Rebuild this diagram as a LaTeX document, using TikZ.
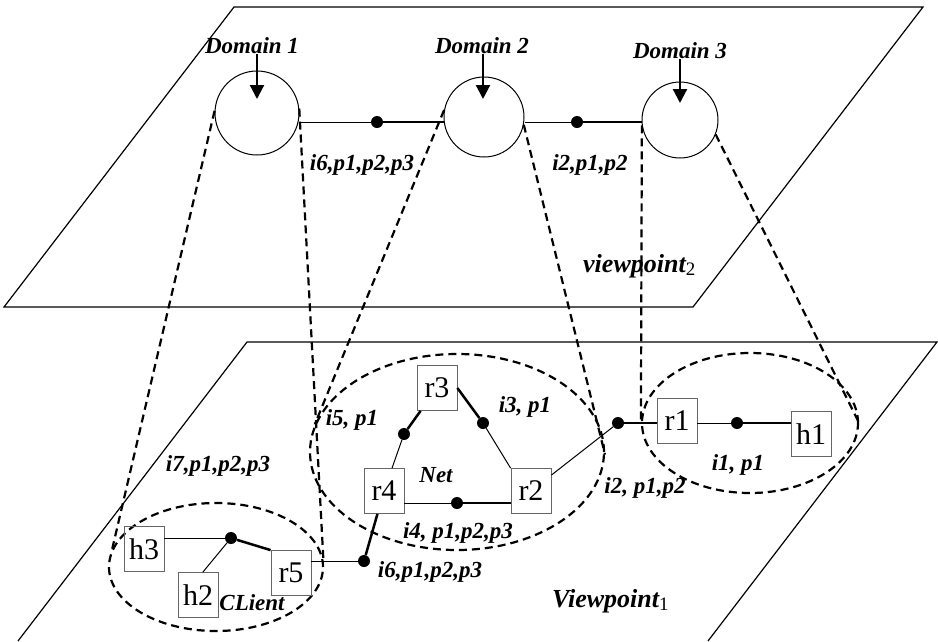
\documentclass[tikz,border=0pt]{standalone}
\usepackage{fontspec}
\setmainfont{Liberation Serif}
\usetikzlibrary{arrows.meta,shapes.geometric}
\begin{document}
\begin{tikzpicture}[x=1pt,y=-1pt,
  lbl/.style={font=\fontsize{23}{25}\selectfont\bfseries\itshape, inner sep=0pt},
  vlbl/.style={font=\fontsize{26}{28}\selectfont\bfseries\itshape, inner sep=0pt},
  box/.style={draw=black!60, line width=0.8pt, minimum width=40pt, minimum height=45pt, inner sep=0pt, font=\fontsize{30}{30}\selectfont},
  dot/.style={circle, fill=black, inner sep=0pt, minimum size=12pt},
  thinline/.style={line width=1pt},
  heavy/.style={line width=2.5pt},
  proj/.style={line width=2.2pt, dash pattern=on 8pt off 5pt},
  dom/.style={circle, draw, line width=1pt, inner sep=0pt},
  region/.style={ellipse, draw, proj, inner sep=0pt},
  plane/.style={line width=1.2pt},
  domarrow/.style={line width=2.2pt, -{Triangle[length=14pt,width=14pt]}},
]
\useasboundingbox (0,0) rectangle (938,641);

% planes
\draw[plane] (234,7) -- (923,7) -- (693,307) -- (4,307) -- cycle;
\draw[plane] (18,641) -- (247,342) -- (937,342) -- (708,641);

% top layer
\node[dom, minimum size=84pt] (D1) at (257,113) {};
\node[dom, minimum size=80pt] (D2) at (484,117) {};
\node[dom, minimum size=76pt] (D3) at (680,120) {};
\node[lbl] (L1) at (252,46) {Domain 1};
\node[lbl] (L2) at (482,46) {Domain 2};
\node[lbl] (L3) at (680,51) {Domain 3};
\coordinate (a1) at (257,99);
\coordinate (a2) at (483,99);
\coordinate (a3) at (680,103);
\draw[domarrow] (a1 |- L1.south) -- (a1);
\draw[domarrow] (a2 |- L2.south) -- (a2);
\draw[domarrow] (a3 |- L3.south) -- (a3);

\node[dot] (dt1) at (377,122) {};
\node[dot] (dt2) at (577,122) {};
\draw[thinline] (dt1 -| D1.east) -- (dt1);
\draw[heavy] (dt1) -- (dt1 -| D2.west);
\draw[thinline] (dt2 -| D2.east) -- (dt2);
\draw[heavy] (dt2) -- (dt2 -| D3.west);

\node[lbl] (t1) at (362,165) {i6,p1,p2,p3};
\node[lbl] (t2) at (590,165) {i2,p1,p2};
\node[vlbl, anchor=west] (vp2) at (583,266) {viewpoint\raisebox{-0.25ex}{\normalfont\fontsize{19}{19}\selectfont 2}};

% lower layer regions
\node[region, minimum width=214pt, minimum height=128pt] (CL) at (216,567) {};
\node[region, minimum width=294pt, minimum height=196pt] (NE) at (457,452) {};
\node[region, minimum width=216pt, minimum height=140pt] (R1E) at (750,423) {};

% projection lines
\draw[proj] (D1.177) -- (CL.170);
\draw[proj] (D1.6) -- (CL.4);
\draw[proj] (D2.170) -- (NE.169);
\draw[proj] (D2.-11) -- (NE.-1);
\draw[proj] (D3.188) -- (R1E.west);
\draw[proj] (D3.-22) -- (R1E.east);

% boxes
\node[box] (r3) at (437,388) {r3};
\node[box] (r4) at (384,491) {r4};
\node[box] (r2) at (531,491) {r2};
\node[box] (r1) at (677,421) {r1};
\node[box] (h1) at (811,434) {h1};
\node[box] (h3) at (144,549) {h3};
\node[box] (h2) at (198,595) {h2};
\node[box] (r5) at (291,573) {r5};

% dots
\node[dot] (d34) at (404,434) {};
\node[dot] (d32) at (483,423) {};
\node[dot] (d42) at (457,503) {};
\node[dot] (d21) at (618,423) {};
\node[dot] (d1h) at (737,423) {};
\node[dot] (d45) at (364,561) {};
\node[dot] (dc) at (231,538) {};

% links
\draw[heavy] (d34) -- (r3);
\draw[thinline] (d34) -- (r4);
\draw[heavy] (r3.east) -- (d32);
\draw[thinline] (d32) -- (r2.north west);
\draw[thinline] (d42 -| r4.east) -- (d42);
\draw[heavy] (d42) -- (d42 -| r2.west);
\draw[thinline] (d21) -- (r2);
\draw[heavy] (d21) -- (d21 -| r1.west);
\draw[thinline] (d1h -| r1.east) -- (d1h);
\draw[heavy] (d1h) -- (d1h -| h1.west);
\draw[heavy] (d45) -- (r4);
\draw[thinline] (d45) -- (d45 -| r5.east);
\draw[thinline] (dc -| h3.east) -- (dc);
\draw[thinline] (dc) -- (h2.78);
\draw[heavy] (dc) -- (r5.north west);

% labels
\node[lbl] (l5) at (352,420) {i5, p1};
\node[lbl] (l7) at (218,466) {i7,p1,p2,p3};
\node[lbl] (lnet) at (436,475) {Net};
\node[lbl] (l3) at (525,407) {i3, p1};
\node[lbl] (l4) at (458,533) {i4, p1,p2,p3};
\node[lbl] (l2) at (645,488) {i2, p1,p2};
\node[lbl] (l1) at (738,465) {i1, p1};
\node[lbl] (l6) at (430,572) {i6,p1,p2,p3};
\node[lbl] (lcl) at (252,603) {CLient};
\node[vlbl, anchor=west] (vp1) at (552,601) {Viewpoint\raisebox{-0.25ex}{\normalfont\fontsize{19}{19}\selectfont 1}};
\end{tikzpicture}
\end{document}
